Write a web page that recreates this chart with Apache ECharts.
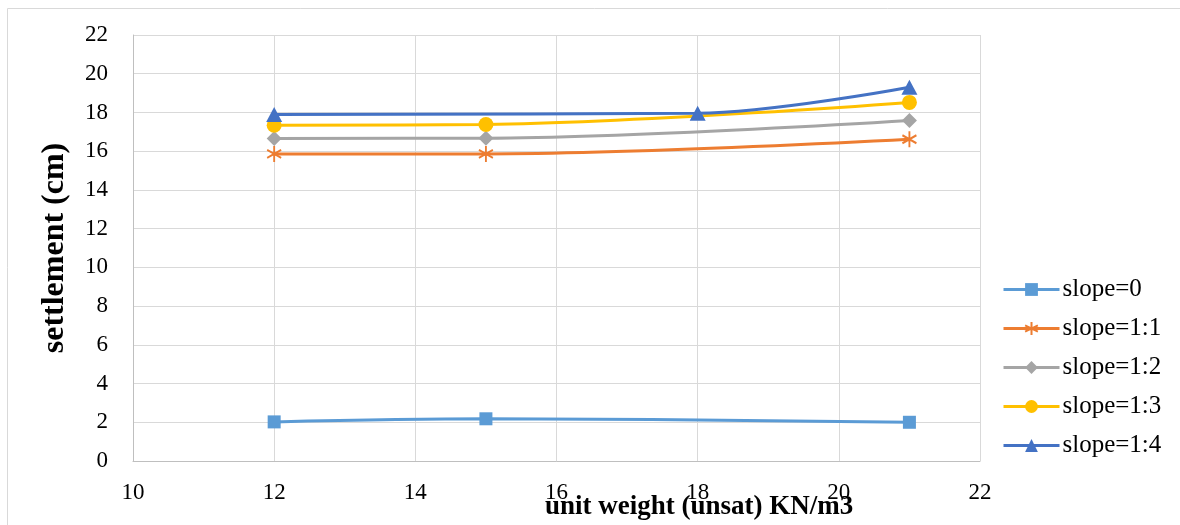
<!DOCTYPE html>
<html><head><meta charset="utf-8">
<script src="https://cdn.jsdelivr.net/npm/echarts@6/dist/echarts.min.js"></script>
<style>html,body{margin:0;padding:0;background:#fff}#c{width:1180px;height:525px}</style>
</head><body><div id="c"></div>
<script>
const seriesNames = ['slope=0','slope=1:1','slope=1:2','slope=1:3','slope=1:4'];
const colors = ['#5B9BD5','#ED7D31','#A5A5A5','#FFC000','#4472C4'];
const symbols = ['rect','path://M0,-10L0,10M-8.66,-5L8.66,5M-8.66,5L8.66,-5','diamond','circle','triangle'];
const slope0  = [[12,2.02],[15,2.18],[21,2.0]];
const slope11 = [[12,15.86],[15,15.86],[21,16.62]];
const slope12 = [[12,16.66],[15,16.67],[21,17.58]];
const slope13 = [[12,17.34],[15,17.38],[21,18.52]];
const slope14 = [[12,17.9],[18,17.96],[21,19.3]];
const dataSets = [slope0,slope11,slope12,slope13,slope14];
const xTicks = {min:10,max:22,interval:2};
const yTicks = {min:0,max:22,interval:2};
const font = '"Liberation Serif", "DejaVu Serif", serif';
const chart = echarts.init(document.getElementById('c'));
chart.setOption({
  animation:false,
  textStyle:{fontFamily:font},
  graphic:[
    {type:'rect',shape:{x:7.5,y:8.5,width:1200,height:540},style:{fill:null,stroke:'#d9d9d9',lineWidth:1},silent:true,z:-1},
    {type:'text',left:545,top:494,style:{text:'unit weight (unsat) KN/m3',font:'bold 27px '+font,fill:'#000'}}
  ],
  grid:{left:133,right:200,top:35,bottom:64,containLabel:false},
  legend:{orient:'vertical',left:997,top:272,itemWidth:56,itemHeight:16,itemGap:14,
    textStyle:{fontSize:25,color:'#000',fontFamily:font,padding:[0,0,0,-2]},
    lineStyle:{width:3},
    data:seriesNames},
  xAxis:{type:'value',min:xTicks.min,max:xTicks.max,interval:xTicks.interval,
    axisLine:{show:true,lineStyle:{color:'#bfbfbf',width:1}},axisTick:{show:false},
    axisLabel:{fontSize:23,color:'#000',margin:20,fontFamily:font},
    splitLine:{show:true,lineStyle:{color:'#d9d9d9',width:1}}},
  yAxis:{type:'value',min:yTicks.min,max:yTicks.max,interval:yTicks.interval,
    name:'settlement (cm)',nameLocation:'middle',nameGap:62,
    nameTextStyle:{fontSize:32,fontWeight:'bold',color:'#000',fontFamily:font},
    axisLine:{show:true,lineStyle:{color:'#bfbfbf',width:1}},axisTick:{show:false},
    axisLabel:{fontSize:23,color:'#000',margin:25,fontFamily:font},
    splitLine:{show:true,lineStyle:{color:'#d9d9d9',width:1}}},
  series:seriesNames.map((n,i)=>({
    name:n,type:'line',data:dataSets[i],smooth:0.35,
    symbol:symbols[i],
    symbolSize: i===4?[16,15]:(i===1?[14,16]:(i===2?15:(i===3?15:13))),
    lineStyle:{color:colors[i],width:3},
    itemStyle:{color:colors[i],borderColor:colors[i],borderWidth:i===1?2:0},
    z:2+i
  }))
});
</script></body></html>
